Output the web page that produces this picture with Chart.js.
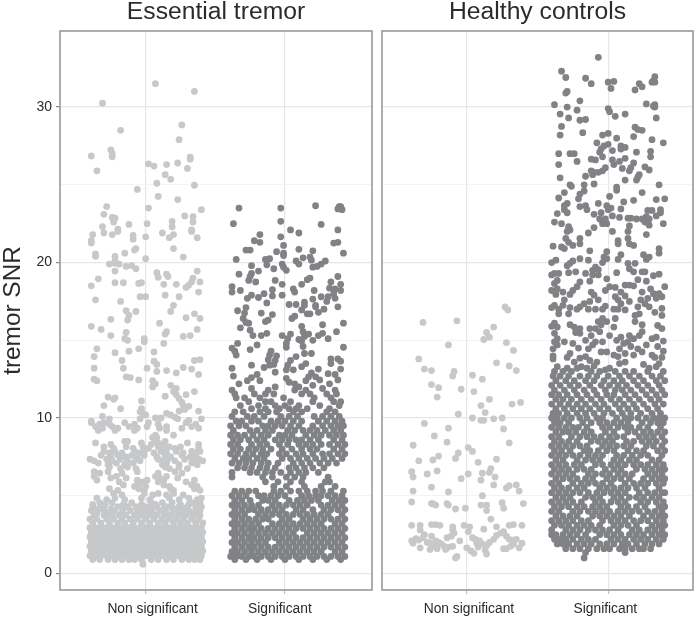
<!DOCTYPE html>
<html><head><meta charset="utf-8">
<style>html,body{margin:0;padding:0;background:#fff;width:694px;height:619px;overflow:hidden}
canvas{position:absolute;top:0}</style>
<script src="https://cdn.jsdelivr.net/npm/chart.js@4"></script></head><body>
<canvas id="c1" style="left:0" width="373" height="619"></canvas>
<canvas id="c2" style="left:373px" width="321" height="619"></canvas>
<script>
const panelTitles=["Essential tremor","Healthy controls"];
const categories=["Non significant","Significant"];
const yAxisTitle="tremor SNR";
const yTicks=[0,5,10,15,20,25,30];
const yLabelled=[0,10,20,30];
const etLabelPositions=[5,96.4];
const hcLabelPositions=[1.5,98];
// x = jitter position (0 = Non significant, 100 = Significant), y = tremor SNR. Flat x,y pairs.
const etNonSigPairs=[7,31.5,35,31,-31,30.25,-18,28.5,26,28.85,24,27.9,-25,27.25,-24,27,-24,26.8,-39,26.85,32,26.77,32,26.65,-35,25.9,2,26.35,6,26.2,15,26.3,23,26.4,30,26.05,14,25.65,18,25.35,8,25.1,35,24.97,-6,24.7,9,24.25,23,24.05,-28,23.6,2,23.5,40,23.4,-30,23.1,-24,22.9,-22,22.85,-23,22.6,28,23,34,22.95,34,22.6,19,22.65,19,22.3,-12,22.45,1,22.5,-31,22.3,-20,22.15,33,22.1,
-38,21.8,-30,21.9,-24,21.8,-20,22,-9,21.75,-9,21.5,0,21.65,12,21.9,17,21.6,20,21.8,33,22,37,21.6,-39,21.4,-39,21.25,-36,20.55,-36,20.4,-7,20.9,-8,20.8,20,20.9,-15,20.6,-22,20.4,27,20.35,0,20.25,-22,20.1,-26,19.9,-19,19.9,-22,19.95,-14,19.75,-10,19.8,-7,19.6,-22,19.45,8,19.35,9,19.05,15,19.25,16,19.1,37,19.45,34,19,-34,18.95,33,18.75,31,18.55,29,18.4,-39,18.5,-22,18.7,-16,18.7,-5,18.65,-3,18.7,13,18.6,22,18.6,39,18.75,38,18.1,14,17.9,24,17.8,-4,17.8,0,17.8,-36,17.6,-18,17.5,20,17.25,18,16.85,-14,16.9,-7,16.85,-12,16.6,-13,16.3,-25,16.35,29,16.45,35,16.7,39,16.4,10,16.1,-39,15.9,-32,15.7,37,15.7,15,15.55,14,15.4,-14,15.5,-25,15.3,27,15.25,32,15.3,-15,15.1,-13,15,-1,15.1,-1,14.9,13,14.8,
-35,14.45,-5,14.45,-22,14.2,-12,14.3,6,14.25,-37,13.95,-17,13.7,6,13.65,8,13.45,35,13.7,39,13.75,-37,13.2,-16,13.2,1,13.2,8,13,15,13.05,22,12.9,27,13.25,33,13.15,38,12.8,-14,12.65,-11,12.6,-5,12.45,-37,12.5,-35,12.4,5,12.4,7,12.2,5,12,18,12.1,22,11.9,20,11.7,22,11.5,35,11.7,29,11.5,14,11.4,-27,11.35,-22,11.3,-23,11.2,-3,11.1,24,11.25,26,11,27,10.8,31,10.75,28,10.55,-30,10.8,-18,10.6,38,10.45,-3,10.6,-4,10.4,-2,10.3,24,10.45,-31,10.1,-26,9.95,-39,9.8,0,10.2,-4,9.95,7,10,11,10,15,10.3,18,10.2,21,10.05,23,9.95,31,9.85,40,9.95];
// rows: first number is y, the rest are x values
const etNonSigRows=[
[9.7,-39,-30,-15,2,29],[9.6,-33,-26,-8,9,36],[9.45,-36,-24,-12,1,15,33],[9.35,-31,-20,-6,10,26,38],[9.2,-34,-22,-8,15],
[8.9,7,20],[8.75,5,8],[8.5,-15,-13,7,14],[8.4,-36,-3,9,30],[8.3,-25,4,13,38],
[8.15,-30,-14,-2,9,17,25],[8.05,-23,-9,2,13,21,38],[7.85,-30,-22,-8,-1,11,22,33,39],[7.75,-26,-17,-5,6,15,27,36],[7.6,-32,-20,-10,-1,14,26,36],[7.5,-25,-14,-6,8,18,32],
[7.35,-40,-28,-18,-7,9,16,28,38],[7.25,-37,-24,-13,-4,12,21,34,41],[7.1,-34,-21,-9,15,33],[7,-27,-15,12,24,37],[6.85,-26,-13,14,24],[6.75,-18,-7,17,30],
[6.55,-37,-27,-6,21],[6.45,-33,-17,9,26],[6.25,-37,-21,7,15],[6.15,-25,-14,10,23],[6,-35,-6,1,13,35],[5.9,-19,-2,9,29],[5.7,-16,-5,13,33],[5.6,-8,0,17,37],[5.45,-26,-5,18,35],[5.35,-20,-1,20,39],
[5.15,-23,-1,9,20],[5.05,-17,5,15,27],[4.85,-35,-22,-3,17,31,40],[4.75,-28,-15,3,24,37],[4.55,-33,-24,-10,4,12,19,33,39],[4.45,-38,-29,-16,-3,7,25,31,38],
[4.3,-38,-30,-20,-13,-7,0,8,15,18,24,30,36,40],[4.15,-34,-25,-16,-3,4,13,21,28,36],[4.05,-39,-30,-22,-11,-6,-1,10,20,25,31,39],[3.9,-35,-28,-17,-5,1,5,15,26,33,37],[3.75,-37,-30,-24,-19,-14,-8,-3,3,8,13,18,23,29,34,39],
[3.5,-40,-35,-28,-23,-17,-11,-6,0,6,12,17,22,27,33,38],[3.25,-38,-32,-26,-20,-15,-9,-3,3,9,14,20,25,30,36,41],
[2.95,-40,-36,-32,-28,-24,-20,-16,-12,-8,-4,0,4,8,12,16,20,24,28,32,36,40],
[2.65,-39,-35,-31,-27,-23,-19,-15,-11,-7,-3,1,5,9,13,17,21,25,29,33,37,41],
[2.35,-40,-36,-32,-28,-24,-20,-16,-12,-8,-4,0,4,8,12,16,20,24,28,32,36,40],
[2.05,-39,-35,-31,-27,-23,-19,-15,-11,-7,-3,1,5,9,13,17,21,25,29,33,37,41],
[1.75,-40,-36,-32,-28,-24,-20,-16,-12,-8,-4,0,4,8,12,16,20,24,28,32,36,40],
[1.45,-39,-35,-31,-27,-23,-19,-15,-11,-7,-3,1,5,9,13,17,21,25,29,33,37,41],
[1.15,-40,-36,-32,-28,-24,-20,-16,-12,-8,-4,0,4,8,12,16,20,24,28,32,36,40],
[0.9,-38,-33,-27,-22,-17,-12,-8,-3,4,9,15,20,26,31,35,39],[0.6,-2]];
const etSigPairs=[67,23.5,97,23.5,122,23.65,139,23.6,138,23.45,141,23.4,140,23.6,63,22.5,97,22.65,126,22.45,104,22.1,110,21.9,138,22.1,82,21.8,97,21.65,78,21.4,82,21.3,99,21.1,135,21.25,138,21.3,72,20.8,75,20.8,94,20.7,110,20.85,99,20.6,99,20.45,120,20.75,142,20.6,65,20.2,86,20.2,89,20.25,113,20.3,118,20.35,119,20.15,108,20.1,110,19.9,87,19.85,98,19.9,76,19.8,92,19.6,99,19.7,101,19.5,120,19.7,123,19.75,126,19.9,129,20.1,
81,19.45,67,19.25,76,19.3,75,19.1,74,18.85,118,19,116,18.9,79,18.75,93,18.85,138,19.1,133,18.75,112,18.6,140,18.6,98,18.6,62,18.45,62,18.1,68,18.2,91,18.25,106,18.3,107,18.1,121,18.2,132,18.35,136,18.3,140,18.2,76,17.9,73,17.7,85,18,81,17.75,91,17.85,98,17.9,135,18,131,17.8,126,17.8,120,17.65,136,17.7,87,17.4,103,17.3,108,17.3,114,17.45,114,17.25,130,17.5,122,17.25,138,17.15,72,17.1,66,16.9,71,16.75,83,16.75,128,17,124,16.8,122,17.15,112,16.95,116,16.7,118,16.7,91,16.65,107,16.55,105,16.4,70,16.4,72,16.15,74,16.1,88,16.3,86,16.2,142,16.1,127,16,68,15.8,112,15.9,75,15.65,77,15.3,83,15.3,87,15.45,137,15.55,98,15.3,104,15.4,113,15.55,114,15.25,117,15.4,124,15.3,127,15.45,131,15.1,120,15,110,15.05,102,15.1,112,14.95,101,14.8,66,14.8,80,14.7,142,14.55,62,14.5,75,14.4,64,14.3,101,14.55,113,14.6,114,14.15,119,14.15,65,14.05,90,14.3,89,14.05,88,13.75,94,14,93,13.7,108,13.95,104,13.7,133,13.8,138,13.8,140,13.65,133,13.5,115,13.5,112,13.3,76,13.4,92,13.45,89,13.4,102,13.4,62,13.2,85,13.25,93,12.95,101,13.1,106,13.1,124,13.15,119,12.9,140,13.15,131,12.85,136,12.8,63,12.7,80,12.8,76,12.6,73,12.4,82,12.4,117,12.65,115,12.4,101,12.55,103,12.3,122,12.65,125,12.45,138,12.45,132,12.2,67,12.2,107,12.2,110,12,120,12.1,93,12,76,11.9,88,11.8,115,11.8,127,11.9,136,11.8,107,11.8,62,11.8];
const etSigRows=[
[11.55,64,78,86,92,112,118,130,137],[11.3,65,71,82,99,121,133],[11.05,74,86,90,104,120,135,140],[10.8,68,81,93,100,110,125,139],[10.6,76,86,96,103,108,116,132],
[10.4,64,70,82,88,94,106,112,130,136],[10.1,62,73,78,85,97,103,109,121,127,133,139],[9.8,65,69,76,81,90,95,100,106,112,124,130,136,141],[9.5,61,67,72,84,88,93,98,104,110,120,127,133,138,142],[9.2,63,75,80,86,91,102,107,113,118,123,129,135,140],[8.9,61,66,71,77,83,88,96,100,105,115,121,126,132,137,142],[8.6,63,68,74,80,85,93,98,103,108,112,118,124,135,141],[8.3,61,66,76,82,87,96,102,110,115,120,126,132,138,143],[8,63,68,74,79,84,90,98,105,112,118,123,135,141],[7.7,61,66,72,77,83,87,96,101,108,113,120,127,132,138,143],[7.4,64,70,74,80,85,98,104,110,116,122,128,134,141],[7.1,62,67,72,77,83,88,95,106,112,118,125,131,137],[6.8,66,71,76,82,87,93,103,108,114,120,128],[6.5,62,75,80,86,91,97,104,110,115,124],[6.2,62,84,91,101,107,113,131],[5.9,86,95,104,112,129,132],[5.6,92,101,114,126,136],
[5.3,64,69,74,79,92,97,104,110,116,122,127,133,142],[5,62,67,72,81,85,90,95,100,112,117,122,126,131,136,141],[4.7,64,69,75,84,88,93,103,109,114,119,124,134,139,143],[4.4,62,66,71,76,81,91,96,101,106,111,116,126,131,136,141],[4.1,64,69,74,78,83,88,93,98,108,113,120,128,133,138,143],[3.8,62,66,71,81,86,91,96,101,106,111,116,121,126,131,141],[3.5,64,69,74,79,84,88,98,103,113,118,123,128,133,138,143],[3.2,62,66,71,76,81,91,96,101,106,111,116,121,126,136,141],
[2.9,64,69,74,78,83,88,93,98,103,108,113,118,123,128,133,138,143],[2.6,62,66,71,76,81,86,91,96,101,106,116,121,126,131,136,141],[2.3,64,69,74,78,83,88,93,98,103,108,113,118,123,128,133,138,143],[2,62,66,71,76,81,86,96,101,106,111,116,121,126,131,136,141],[1.7,64,69,74,78,83,88,93,98,103,108,113,118,123,128,133,138,143],[1.4,62,66,71,76,81,86,91,96,101,106,111,116,121,126,136,141],[1.1,61,65,69,74,78,83,88,93,98,103,108,113,118,123,128,133,138,143],[0.9,64,72,80,90,100,110,120,130,140]];
const hcNonSigPairs=[27,17.15,29,16.95,-31,16.15,-7,16.25,19,15.85,14,15.5,16,15.2,12,15.05,-13,14.7,28,14.85,33,14.35,-34,13.8,21,13.55,30,13.35,35,13.05,-30,13.15,-25,13.05,-9,13,-10,12.7,4,12.75,11,12.5,-25,12.15,-20,11.95,-4,11.85,5,11.7,-21,11.35,16,11.2,10,10.8,32,10.9,38,11,13,10.35,-6,10.25,4,10,10,9.85,12,9.85,19,9.95,25,10,-30,9.65,-13,9.35,26,9.3,-23,8.85,-14,8.45,30,8.4,-38,8.25,1,8.1,4,7.85,-6,7.75,-20,7.55,-8,7.4,21,7.35,-24,7.3,-34,7.25,8,7.15,17,6.75,-21,6.6,-39,6.55,-38,6.2,-28,6.4,16,6.5,11,6.45,1,6.4,-4,6.1,20,6.2,10,6,19,5.7,-25,5.55,28,5.5,30,5.65,35,5.7,-38,5.3,-13,5.25,37,5.3,11,5,-39,4.6,-25,4.5,-22,4.4,-24,4.5,-14,4.5,-13,4.4,-8,4.15,-1,4.2,10,4.4,14,4.4,14,4.05,25,4.55,26,4.2,40,4.5,17,3.5,
-39,3.1,-33,3.1,-25,3.15,-22,3.15,-19,3.1,-10,3,-2,3.1,2,3,12,2.85,21,3,30,3.1,33,3.15,39,3.1,-33,2.8,-10,2.8,-9,2.6,1,2.7,-30,2.5,-25,2.4,-36,2.25,-39,2.1,-38,1.95,-34,2.15,-31,2.3,-28,2,-26,1.95,-22,2.1,-23,1.75,-20,2,-18,1.9,-14,2.3,-11,2.4,-16,1.75,-13,1.7,-10,1.75,-5,2.1,4,2.3,6,2.2,7,1.95,9,2.1,11,1.9,8,1.7,14,1.8,13,1.5,16,2,19,2.2,21,2.45,24,2.6,26,2.7,28,2.4,30,2.2,33,2.15,35,2.2,33,1.9,31,1.75,28,1.6,26,1.6,37,1.65,39,1.95,-33,1.65,-26,1.55,0,1.65,3,1.45,5,1.3,14,1.25,-8,1,-7,1.1,-21,1.6,-15,1.55];
const hcSigPairs=[93,33.2,67,32.3,70,31.9,84,31.85,88,31.5,100,31.6,104,31.65,102,31.2,133,31.95,132,31.7,131,31.6,133,31.6,122,31.5,124,31.3,119,31.1,71,31,70,30.9,80,30.4,62,30.15,71,30,78,29.8,66,29.55,72,29.3,80,29.15,84,29.2,100,29.9,101,29.7,105,29.4,112,29.55,127,30.2,133,30.15,133,30,132,30.05,134,29.3,67,28.75,66,28.2,82,28.35,119,28.7,121,28.55,124,28.5,118,28.1,96,28.2,100,28.3,92,27.7,106,28,131,27.9,139,27.7,100,27.6,97,27.5,95,27.3,94,27.1,96,26.8,109,27.5,109,27.3,112,27.4,103,27.2,120,27.1,130,27.15,130,26.8,65,27,73,27,76,27,78,26.5,65,26.3,88,26.65,91,26.6,103,26.6,104,26.3,108,26.5,112,26.7,110,26.05,118,26.4,116,26.1,115,25.9,126,26.15,129,25.95,98,26.1,96,25.9,93,25.8,90,25.8,88,25.9,89,25.65,84,25.55,66,25.45,122,25.65,121,25.5,120,25.3,112,25.3,73,25,74,24.9,83,25,90,25.05,136,25,106,24.85,106,24.65,83,24.6,80,24.4,69,24.5,79,24.1,65,24.15,124,24.5,101,24.25,134,24.05,140,24.1,118,24,111,23.9,93,23.8,71,23.8,69,23.65,80,23.6,84,23.65,85,23.4,99,23.65,102,23.5,100,23.4,109,23.45,128,23.35,131,23.35,137,23.4,137,23.2,69,23.4,71,23.2,64,23.15,90,23.1,95,23.2,103,23,108,22.9,134,23,114,22.85,116,22.85,120,22.8,124,22.8,127,22.95,129,22.8,94,22.8,98,22.8,
62,22.6,67,22.5,72,22.3,71,22,73,22.1,86,21.9,90,22.25,96,22.5,99,22.5,103,22,114,22,115,22.35,127,21.8,129,22.4,139,22.5,126,22.6,70,21.55,72,21.3,75,21.1,80,21.55,80,21.2,61,21.05,67,21,69,20.9,107,21.4,107,21.2,114,21.55,115,21.2,118,21.1,87,20.75,99,20.7,136,20.9,136,20.6,109,20.5,107,20.2,97,20.35,96,20,99,20.25,125,20.5,129,20.35,127,20.2,80,20.25,75,20.1,86,20.15,60,20,63,20.15,73,19.95,71,19.8,91,19.7,89,19.5,93,19.55,114,19.95,119,19.95,115,19.6,118,19.4,124,19.4,126,19.4,106,19.35,72,19.35,77,19.4,84,19.3,89,19.2,62,19.3,60,19.2,65,19.3,64,18.85,62,18.65,93,19.2,99,18.95,87,18.8,80,18.75,121,18.9,127,18.8,132,19.15,136,19.25,112,18.55,115,18.55,118,18.5,105,18.4,101,18.45,98,18.2,78,18.45,75,18.2,73,17.95,60,18.2,64,18.3,68,18.1,63,17.95,88,18.1,90,17.9,130,18.3,132,18,140,18.45,124,18.1,136,18,109,18.1,112,17.85,105,17.8,107,17.6,123,17.6,128,17.7,134,17.7,138,17.8,93,17.6,87,17.5,69,17.6,83,17.35,98,17.2,96,17,109,17.35,115,17.5,126,17.35,129,17.15,60,17.1,62,17.25,65,17,68,17.25,73,17.1,78,17,80,17.15,86,17,91,17,104,17,107,17,112,16.95,121,17.15,138,17.05,72,16.7,65,16.7,119,16.6,122,16.7,133,16.8,138,16.6,105,16.4,96,16.4,93,16.2,62,16.1,60,15.9,64,15.85,73,16,76,15.85,80,15.75,87,15.75,91,15.75,95,16,99,16.2,104,15.85,119,16.2,124,16,135,15.95,138,15.75,77,15.5,80,15.45,94,15.55,88,15.3,101,15.3,124,15.55,122,15.3,62,15.45,64,15.1,84,15,115,15.3,109,15.2,106,15,118,15.1,134,15.2,131,15.1,139,14.95,62,14.9,91,14.9,96,14.9,114,14.9,111,14.8,127,14.7,64,14.7,69,14.9,75,14.8,89,14.7,86,14.45,79,14.5,61,14.45,108,14.45,116,14.6,121,14.45,139,14.3,135,14.6,95,14.25,99,14.25,61,14,61,13.8,73,14.15,71,13.9,84,13.95,80,13.85,104,14.05,107,13.95,112,14.15,118,14.05,124,14.25,131,14.05,133,13.9,138,13.9,87,13.7,76,13.6,92,13.6,108,13.5,112,13.6,64,13.3,71,13.2,78,13.2,81,13.3,85,13.2,90,13.35,98,13.1,101,13.2,125,13.45,129,13.2,136,13.5,134,13.3];
const hcSigRows=[
[13,62,68,74,88,94,105,112,118,128,139],[12.7,61,66,72,80,86,92,100,108,115,122,131,137],[12.4,63,70,76,84,90,97,104,110,118,125,134,140],[12.1,60,66,73,79,87,95,101,107,113,121,128,136],[11.8,62,69,76,83,90,98,105,110,116,124,131,138],[11.5,60,65,71,78,85,92,99,104,112,119,127,134,140],[11.2,63,68,74,81,88,95,102,108,115,122,130,136],[10.9,60,66,72,78,84,91,97,105,111,118,125,133,139],[10.6,63,69,75,81,87,94,100,108,114,120,128,135],[10.3,61,65,71,78,84,90,97,103,110,116,123,131,137],
[10,60,64,69,74,80,85,92,96,106,112,116,121,127,132,136,140],[9.7,62,66,72,82,88,94,99,104,109,114,124,130,135,139],[9.4,60,65,70,75,79,85,96,101,107,112,116,122,128,137],[9.1,63,68,72,77,83,88,98,104,114,119,125,130,135,140],[8.8,60,65,74,80,85,90,95,101,106,111,122,127,132,138],[8.5,62,67,72,78,88,93,98,103,113,118,124,129,134,140],[8.2,60,65,70,75,80,85,96,101,106,111,116,127,132,138],[7.9,62,67,73,83,87,93,99,104,114,120,125,135,140],[7.6,60,65,70,75,80,86,91,96,106,111,117,123,128,138],[7.3,63,68,78,84,89,94,104,109,115,120,131,136],[7,60,65,70,76,81,91,96,102,107,112,118,123,128,134,139],
[6.7,62,67,72,78,83,88,98,104,109,120,126,131,136,140],[6.4,60,65,70,75,86,91,96,101,107,112,117,128,133,138],[6.1,63,68,73,78,84,89,99,104,109,115,125,131,136,140],[5.8,60,65,75,81,86,91,96,102,112,118,123,128,134,139],[5.5,62,67,72,78,83,94,99,104,109,114,120,126,136],[5.2,60,65,70,75,80,86,92,97,102,107,112,122,128,133,138,140],[4.9,63,68,73,84,89,94,104,109,115,120,125,131,136],[4.6,60,65,70,75,81,91,96,102,107,112,123,128,134,139],[4.3,62,67,72,78,83,89,94,99,109,114,120,126,136,140],[4,60,65,75,80,86,91,96,101,107,112,117,122,128,133,138],[3.7,63,68,73,78,89,94,99,104,109,115,125,131,136,140],[3.4,60,65,70,75,81,86,96,102,107,112,118,123,128,134,139],
[3.1,62,67,72,78,83,88,94,104,109,114,120,131,136,140],[2.8,60,70,75,80,86,91,96,101,107,117,122,128,133,138],[2.5,60,63,68,73,78,84,94,99,104,109,115,120,125,131,136,140],[2.2,62,66,70,75,81,86,91,102,107,112,118,123,128,134,139],[1.9,64,68,72,78,83,88,94,99,104,110,114,120,126,131,136],[1.6,70,75,80,86,92,97,101,108,112,117,122,125,130],[1.35,84,112],[1,83]];

const lightGrey="#c7c8ca", darkGrey="#808285", ink="#2b2b2c", frame="#999999", gridMajor="#e6e6e6", gridMinor="#f3f3f3";
function fromPairs(a){const o=[];for(let i=0;i<a.length;i+=2)o.push({x:a[i],y:a[i+1]});return o;}
function fromRows(rows){const o=[];rows.forEach(r=>r.slice(1).forEach(x=>o.push({x,y:r[0]})));return o;}
const framePlugin={id:"panelFrame",afterDraw(c){const a=c.chartArea,g=c.ctx;g.save();g.strokeStyle=frame;g.lineWidth=1.6;g.strokeRect(a.left,a.top,a.right-a.left,a.bottom-a.top);g.restore();}};
function panel(id,title,light,dark,xMin,xMax,showY,labelPos){
 const isCat=v=>v===0||v===100;
 return new Chart(document.getElementById(id),{type:"scatter",plugins:[framePlugin],
  data:{datasets:[
   {data:light,backgroundColor:lightGrey,borderWidth:0,pointRadius:3.4,pointHoverRadius:3.4},
   {data:dark,backgroundColor:darkGrey,borderWidth:0,pointRadius:3.4,pointHoverRadius:3.4}]},
  options:{responsive:false,animation:false,
   layout:{autoPadding:false,padding:{left:showY?0:9,right:1,top:0,bottom:0}},
   plugins:{legend:{display:false},tooltip:{enabled:false},
    title:{display:true,text:title,fullSize:false,color:ink,font:{family:"Liberation Sans",size:24.7,weight:"normal",lineHeight:1},padding:{top:0,bottom:6.3}}},
   scales:{
    x:{type:"linear",min:xMin,max:xMax,
     afterBuildTicks:s=>{s.ticks=[0,100].concat(labelPos).sort((a,b)=>a-b).map(value=>({value}));},
     afterFit:s=>{s.height=29;},
     border:{display:false},
     grid:{color:c=>isCat(c.tick.value)?gridMajor:"rgba(0,0,0,0)",lineWidth:1.2,tickColor:c=>isCat(c.tick.value)?"#c4c4c4":"rgba(0,0,0,0)",tickLength:4},
     ticks:{color:ink,autoSkip:false,font:{family:"Liberation Sans",size:13.8},padding:7,maxRotation:0,callback:v=>{const i=labelPos.indexOf(v);return i<0?"":categories[i];}}},
    y:{min:-1.06,max:34.89,display:true,
     afterBuildTicks:s=>{s.ticks=yTicks.map(value=>({value}));},
     afterFit:s=>{s.width=showY?60:0;},
     border:{display:false},
     grid:{color:c=>yLabelled.includes(c.tick.value)?gridMajor:gridMinor,lineWidth:c=>yLabelled.includes(c.tick.value)?1.2:1,
       tickColor:c=>showY&&yLabelled.includes(c.tick.value)?"#8c8c8c":"rgba(0,0,0,0)",tickLength:showY?4:0},
     title:{display:showY,text:yAxisTitle,color:ink,font:{family:"Liberation Sans",size:24.4,lineHeight:1},padding:{top:1,bottom:0}},
     ticks:{display:showY,color:ink,font:{family:"Liberation Sans",size:14},padding:4,callback:v=>yLabelled.includes(v)?String(v):""}}
   }}});
}
panel("c1",panelTitles[0],fromPairs(etNonSigPairs).concat(fromRows(etNonSigRows)),fromPairs(etSigPairs).concat(fromRows(etSigRows)),-61.5,162.5,true,etLabelPositions);
panel("c2",panelTitles[1],fromPairs(hcNonSigPairs),fromPairs(hcSigPairs).concat(fromRows(hcSigRows)),-60,160,false,hcLabelPositions);
</script></body></html>
